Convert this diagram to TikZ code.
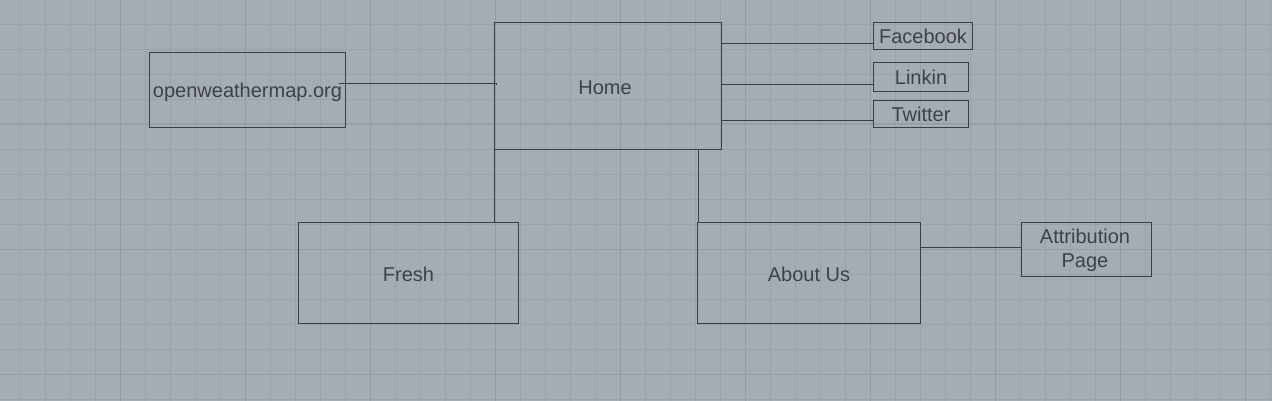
\documentclass[tikz,border=0pt]{standalone}
\usepackage{fontspec}
\setmainfont{Liberation Sans}
\begin{document}
\begin{tikzpicture}[x=1pt,y=-1pt,
  lbl/.style={text=textc, font=\fontsize{20}{24}\selectfont, align=center},
  box/.style={draw=linec, line width=1.1pt, inner sep=0pt, outer sep=0pt, anchor=north west, lbl, text height=16pt, text depth=0pt},
  conn/.style={draw=linec, line width=1pt},
  minor/.style={draw=gridc, line width=0.8pt},
  major/.style={draw=gridm, line width=1pt}]
\definecolor{bgc}{HTML}{A6ACB4}
\definecolor{gridc}{HTML}{9BA1A9}
\definecolor{gridm}{HTML}{969CA4}
\definecolor{linec}{HTML}{3A3F47}
\definecolor{textc}{HTML}{3D424A}
\useasboundingbox (0,0) rectangle (1272,401);
\fill[bgc] (0,0) rectangle (1272,401);
\foreach \i in {0,...,50} {\draw[minor] (20.7+25*\i,0) -- (20.7+25*\i,401);}
\foreach \j in {1,...,16} {\draw[minor] (0,-1+25*\j) -- (1272,-1+25*\j);}
\foreach \i in {0,...,9} {\draw[major] (120.7+125*\i,0) -- (120.7+125*\i,401);}
\foreach \j in {1,2,3} {\draw[major] (0,-1+125*\j) -- (1272,-1+125*\j);}
% nodes
\node[box, minimum width=196pt, minimum height=75pt] (owm) at (149.5,52.5) {openweathermap.org};
\node[box, minimum width=227pt, minimum height=127pt] (home) at (494.5,22.5) {};
\node[lbl, text height=16pt, text depth=0pt] (hometext) at (605,87) {Home};
\node[box, minimum width=99pt, minimum height=27pt] (fb) at (873.5,22.5) {Facebook};
\node[box, minimum width=95pt, minimum height=29pt] (li) at (873.5,62.5) {Linkin};
\node[box, minimum width=95pt, minimum height=27pt] (tw) at (873.5,100.5) {Twitter};
\node[box, minimum width=220pt, minimum height=101pt] (fresh) at (298.5,222.5) {Fresh};
\node[box, minimum width=223pt, minimum height=101pt] (about) at (697.5,222.5) {About Us};
\node[box, minimum width=130pt, minimum height=54pt] (attr) at (1021.5,222.5) {};
\node[lbl] (attrtext) at (1085,250) {Attribution\\Page};
% connectors
\coordinate (owmstart) at ([xshift=-7pt,yshift=6.5pt]owm.east);
\draw[conn] (owmstart) -- (owmstart -| home.west) -- ++(1.5,0) -- ++(0,1.5);
\draw[conn] (home.east |- 0,43.5) -- (home.east |- 0,43.5 -| fb.west);
\draw[conn] (home.east |- 0,84.5) -- (home.east |- 0,84.5 -| li.west);
\draw[conn] (home.east |- 0,120.5) -- (home.east |- 0,120.5 -| tw.west);
\draw[conn] (home.south west) -- (home.south west |- fresh.north);
\draw[conn] ([xshift=1pt]about.north west |- home.south) -- ([xshift=1pt]about.north west);
\draw[conn] (about.east |- 0,247.5) -- (attr.west |- 0,247.5);
\end{tikzpicture}
\end{document}
